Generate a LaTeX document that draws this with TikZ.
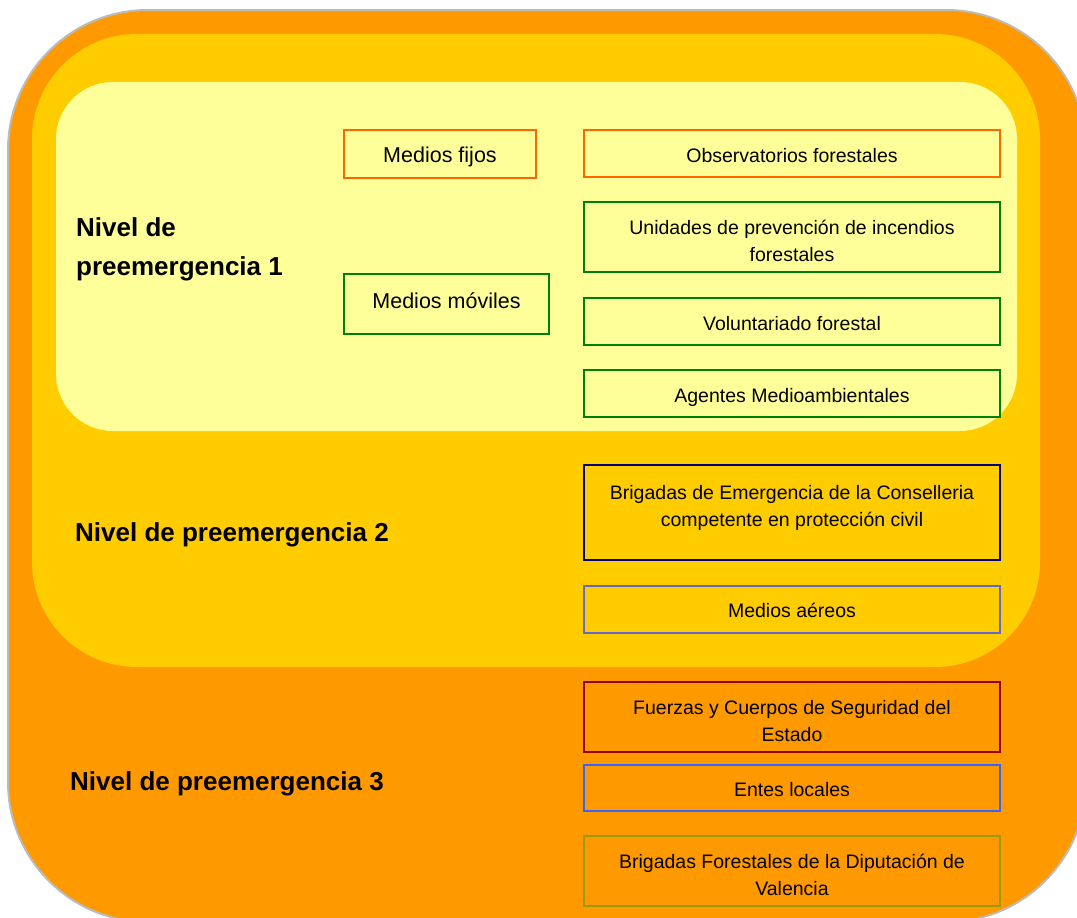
\documentclass[tikz,border=0pt]{standalone}
\usepackage{fontspec}
\setmainfont{Liberation Sans}
\definecolor{outerC}{HTML}{FF9900}
\definecolor{midC}{HTML}{FFCC00}
\definecolor{innerC}{HTML}{FFFF99}
\definecolor{rimC}{HTML}{BBBBBB}
\definecolor{orangeB}{HTML}{FF6600}
\definecolor{greenB}{HTML}{008000}
\definecolor{navyB}{HTML}{000080}
\definecolor{slateB}{HTML}{6666CC}
\definecolor{redB}{HTML}{990000}
\definecolor{blueB}{HTML}{3366FF}
\definecolor{oliveB}{HTML}{999900}
\tikzset{
  boxframe/.style={draw, line width=1.6pt, inner sep=0pt},
  itembox/.style={boxframe, minimum width=416pt},
  itemtext/.style={align=center, inner sep=0pt, text=black,
    font=\fontsize{19.5}{27}\selectfont},
  medtext/.style={align=center, inner sep=0pt, text=black,
    font=\fontsize{21.5}{27}\selectfont},
  levellabel/.style={anchor=west, align=left, inner sep=0pt,
    font=\fontsize{26}{39}\selectfont\bfseries, text=black}
}
\begin{document}
\begin{tikzpicture}[x=1pt,y=-1pt]
\useasboundingbox (0,0) rectangle (1077,918);
\begin{scope}
\clip (0,0) rectangle (1077,918);
\path[fill=outerC, draw=rimC, line width=2pt, rounded corners=140pt] (8,10) rectangle (1086,922);
\path[fill=midC, rounded corners=105pt] (32,34) rectangle (1040,667);
\path[fill=innerC, rounded corners=57pt] (56,82) rectangle (1017,431);
\end{scope}

\node[boxframe, draw=orangeB, minimum width=192pt, minimum height=48pt,
  label={[medtext, yshift=-3pt]center:Medios fijos}] (fijos) at (440,154) {};
\node[boxframe, draw=greenB, minimum width=205pt, minimum height=60pt,
  label={[medtext, yshift=3pt]center:Medios móviles}] (moviles) at (446.5,304) {};

\node[itembox, draw=orangeB, minimum height=47pt,
  label={[itemtext, yshift=-2pt]center:Observatorios forestales}] (obs) at (792,153.5) {};
\node[itembox, draw=greenB, minimum height=70pt,
  label={[itemtext, yshift=-4pt]center:{Unidades de prevención de incendios\\forestales}}] (unid) at (792,237) {};
\node[itembox, draw=greenB, minimum height=47pt,
  label={[itemtext, yshift=-2pt]center:Voluntariado forestal}] (volun) at (792,321.5) {};
\node[itembox, draw=greenB, minimum height=47pt,
  label={[itemtext, yshift=-3.5pt]center:Agentes Medioambientales}] (agent) at (792,393.5) {};

\node[itembox, draw=navyB, minimum height=95pt,
  label={[itemtext, yshift=4.5pt]center:{Brigadas de Emergencia de la Conselleria\\competente en protección civil}}] (brigem) at (792,512.5) {};
\node[itembox, draw=slateB, minimum height=47pt,
  label={[itemtext, yshift=-1pt]center:Medios aéreos}] (aereos) at (792,609.5) {};

\node[itembox, draw=redB, minimum height=70pt,
  label={[itemtext, yshift=-4pt]center:{Fuerzas y Cuerpos de Seguridad del\\Estado}}] (fuerzas) at (792,717) {};
\node[itembox, draw=blueB, minimum height=46pt,
  label={[itemtext, yshift=-2pt]center:Entes locales}] (entes) at (792,788) {};
\node[itembox, draw=oliveB, minimum height=70pt,
  label={[itemtext, yshift=-3.5pt]center:{Brigadas Forestales de la Diputación de\\Valencia}}] (brigfor) at (792,871) {};

\node[levellabel] (n1) at (76,249) {Nivel de\\preemergencia 1};
\node[levellabel] (n2) at (75,535) {Nivel de preemergencia 2};
\node[levellabel] (n3) at (70,784) {Nivel de preemergencia 3};
\end{tikzpicture}
\end{document}
